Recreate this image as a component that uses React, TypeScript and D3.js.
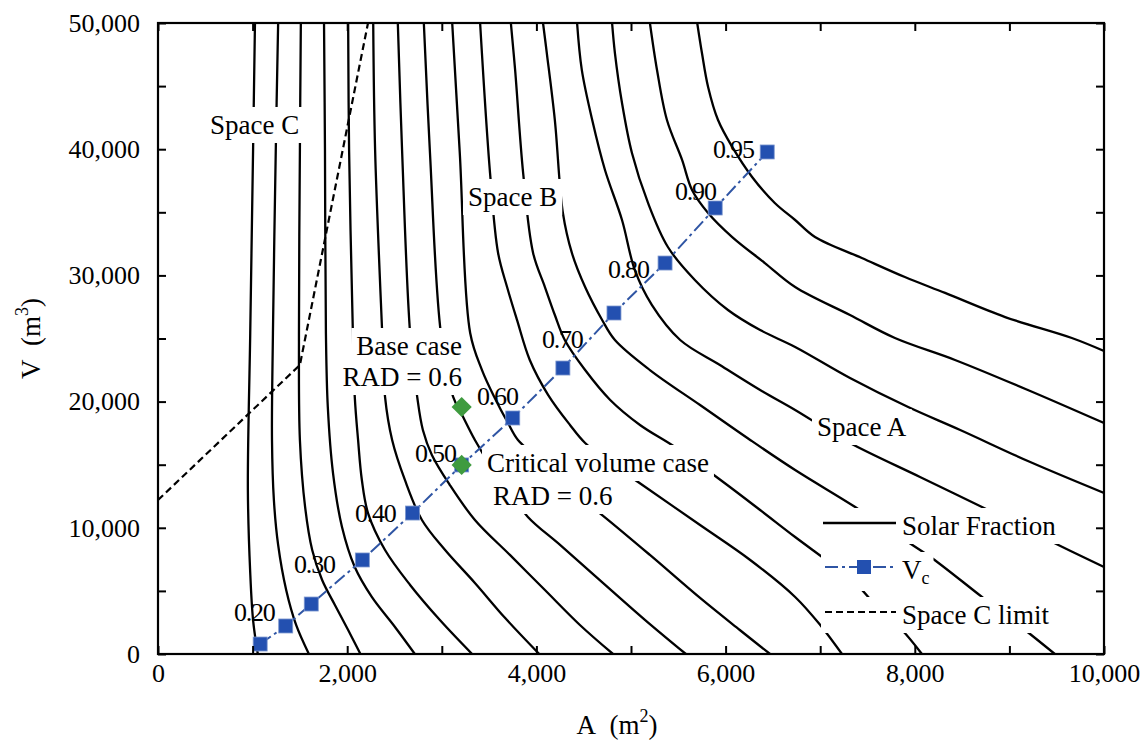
import React, { useEffect, useRef } from "react";
import * as d3 from "d3";

// ---------- data ----------
const xMajorTicks = [0, 2000, 4000, 6000, 8000, 10000];
const xAllTicks = [0, 1000, 2000, 3000, 4000, 5000, 6000, 7000, 8000, 9000, 10000];
const yMajorTicks = [0, 10000, 20000, 30000, 40000, 50000];
const yAllTicks = [0, 5000, 10000, 15000, 20000, 25000, 30000, 35000, 40000, 45000, 50000];

// Solar fraction contours, [A (m2), V (m3)]
const sf020 = [[1025, 50000], [1005, 39940], [975, 25440], [950, 13000], [975, 6420], [1005, 2690], [1055, 0]];
const sf025 = [[1270, 50000], [1245, 39940], [1215, 25440], [1205, 16960], [1225, 12200], [1270, 8640], [1355, 5070], [1460, 2300], [1595, 0]];
const sf030 = [[1510, 50000], [1500, 39940], [1490, 25440], [1500, 16960], [1555, 11650], [1630, 8240], [1735, 5860], [1870, 3880], [2010, 1900], [2140, 0]];
const sf035 = [[1755, 50000], [1765, 39940], [1775, 25440], [1795, 19570], [1850, 14340], [1945, 10060], [2080, 6890], [2260, 4520], [2505, 2140], [2715, 0]];
const sf040 = [[2010, 50000], [2020, 39940], [2060, 25440], [2080, 20370], [2115, 16960], [2155, 13790], [2220, 11170], [2400, 8240], [2665, 5470], [2980, 2690], [3320, 0]];
const sf045 = [[2275, 50000], [2295, 39940], [2370, 25440], [2400, 20370], [2475, 16960], [2610, 13790], [2790, 10620], [3035, 8240], [3350, 5630], [3670, 2850], [4030, 0]];
const sf050 = [[2535, 50000], [2580, 39940], [2665, 25440], [2740, 20370], [2800, 17750], [2895, 15770], [3085, 13390], [3350, 10620], [3720, 7850], [4090, 5070], [4460, 2300], [4810, 0]];
const sf055 = [[2810, 50000], [2875, 39700], [2990, 25440], [3120, 20370], [3215, 18940], [3350, 16960], [3510, 14980], [3720, 12840], [3910, 10860], [4250, 8640], [4670, 5860], [5150, 2690], [5580, 0]];
const sf060 = [[3110, 50000], [3190, 39700], [3300, 25440], [3425, 22500], [3560, 20290], [3700, 18300], [3805, 16960], [4040, 15370], [4355, 13000], [4695, 11010], [5200, 7850], [5730, 4440], [6150, 1900], [6470, 0]];
const sf065 = [[3405, 50000], [3510, 38110], [3595, 31780], [3690, 29080], [3795, 26470], [3930, 23300], [4125, 20520], [4355, 18150], [4515, 16720], [4780, 15210], [5075, 13630], [5730, 10220], [6260, 7450], [6735, 4520], [7000, 2300], [7230, 0]];
const sf070 = [[3730, 50000], [3775, 46280], [3860, 38110], [3965, 31780], [4090, 29080], [4195, 26860], [4300, 24880], [4515, 22500], [4780, 20130], [5095, 18150], [5465, 16400], [5975, 13630], [6365, 11410], [6735, 9270], [7105, 7210], [7370, 5630], [7630, 3490], [7865, 1900], [8075, 0]];
const sf075 = [[4070, 50000], [4110, 47620], [4195, 42310], [4280, 34950], [4375, 31780], [4515, 29080], [4695, 26470], [4830, 24880], [5200, 22500], [5730, 19730], [6260, 16960], [6735, 14580], [7370, 11650], [7895, 9030], [8180, 7610], [8710, 4520], [9165, 1900], [9480, 0]];
const sf080 = [[4430, 50000], [4480, 46280], [4590, 42310], [4725, 38350], [4905, 34390], [5040, 30430], [5220, 27660], [5520, 24880], [5940, 22900], [6365, 20920], [6735, 19340], [7295, 16800], [8055, 14030], [8710, 11650], [9410, 9030], [10000, 6890]];
const sf085 = [[4800, 50000], [4830, 47620], [4905, 43660], [5010, 39700], [5180, 35740], [5390, 32250], [5675, 29640], [6025, 27260], [6365, 25670], [6735, 24330], [7315, 21870], [7930, 19570], [8480, 17750], [9220, 15210], [10000, 12760]];
const sf090 = [[5200, 50000], [5275, 46280], [5380, 42310], [5540, 39150], [5645, 36770], [5815, 34950], [6070, 33040], [6415, 30980], [6735, 29080], [7315, 26860], [7790, 25040], [8425, 23300], [9195, 20920], [10000, 18300]];
const sf095 = [[5700, 50000], [5750, 47620], [5815, 44930], [5920, 42310], [6070, 40180], [6280, 37800], [6520, 35740], [6735, 34390], [6945, 33040], [7440, 31380], [7895, 29870], [8320, 28610], [8955, 26700], [9660, 25040], [10000, 24010]];

const contours = [sf020, sf025, sf030, sf035, sf040, sf045, sf050, sf055, sf060, sf065, sf070, sf075, sf080, sf085, sf090, sf095];

// Critical volume Vc series
const vcA = [1080, 1350, 1620, 2160, 2690, 3210, 3750, 4280, 4820, 5360, 5890, 6440];
const vcV = [790, 2220, 3960, 7450, 11170, 14980, 18700, 22660, 27020, 30980, 35340, 39780];

// Contour level labels: text, A, V (left / baseline anchor)
const sfLabelText = ["0.20", "0.30", "0.40", "0.50", "0.60", "0.70", "0.80", "0.90", "0.95"];
const sfLabelA = [803, 1438, 2082, 2717, 3372, 4059, 4757, 5465, 5867];
const sfLabelV = [2615, 6418, 10460, 15214, 19731, 24247, 29794, 35975, 39303];

// Space C limit
const spaceCLimit = [[0, 12200], [1500, 22900], [2220, 50000]];

// Green cases
const baseCase = [3210, 19570];
const criticalCase = [3210, 14980];

export default function App() {
  const ref = useRef<SVGSVGElement>(null);

  useEffect(() => {
    const W = 1142, H = 742;
    const L = 158, R = 1104, T = 23, B = 654;
    const font = "'Liberation Serif', 'Times New Roman', serif";
    const svg = d3.select(ref.current);
    svg.selectAll("*").remove();
    svg.attr("width", W).attr("height", H);

    const x = d3.scaleLinear().domain([0, 10000]).range([L, R]);
    const y = d3.scaleLinear().domain([0, 50000]).range([B, T]);

    svg.append("rect").attr("width", W).attr("height", H).attr("fill", "#fff");

    const defs = svg.append("defs");
    defs.append("clipPath").attr("id", "plotclip")
      .append("rect").attr("x", L).attr("y", T).attr("width", R - L).attr("height", B - T);

    const plot = svg.append("g").attr("clip-path", "url(#plotclip)");

    const line = d3.line<number[]>()
      .x((d) => x(d[0]))
      .y((d) => y(d[1]))
      .curve(d3.curveCatmullRom.alpha(0.5));

    // contours
    plot.append("g").selectAll("path").data(contours).join("path")
      .attr("d", (d) => line(d))
      .attr("fill", "none")
      .attr("stroke", "#000")
      .attr("stroke-width", 2.3);

    // space C limit
    plot.append("path")
      .attr("d", d3.line<number[]>().x((d) => x(d[0])).y((d) => y(d[1]))(spaceCLimit))
      .attr("fill", "none").attr("stroke", "#000").attr("stroke-width", 2.2)
      .attr("stroke-dasharray", "7,4");

    // annotations with white backgrounds
    const annot = svg.append("g");
    const addBoxedText = (txt: string, ax: number, vy: number, anchor: string, padX = 5, padY = 3) => {
      const g = annot.append("g");
      const t = g.append("text")
        .attr("x", x(ax)).attr("y", y(vy))
        .attr("text-anchor", anchor)
        .attr("font-family", font).attr("font-size", 27).attr("fill", "#000")
        .text(txt);
      const bb = (t.node() as SVGTextElement).getBBox();
      g.insert("rect", "text")
        .attr("x", bb.x - padX).attr("y", bb.y - padY)
        .attr("width", bb.width + 2 * padX).attr("height", bb.height + 2 * padY)
        .attr("fill", "#fff");
    };
    addBoxedText("Space C", 550, 41205, "start");
    addBoxedText("Space B", 3277, 35500, "start");
    addBoxedText("Space A", 6966, 17274, "start");
    addBoxedText("Base case", 3214, 23693, "end");
    addBoxedText("RAD = 0.6", 3214, 21236, "end");
    addBoxedText("Critical volume case", 3478, 14422, "start");
    addBoxedText("RAD = 0.6", 3541, 11807, "start");

    // Vc series
    const vcPts = vcA.map((a, i) => [a, vcV[i]]);
    const vcColor = "#2f55a4";
    svg.append("path")
      .attr("d", d3.line<number[]>().x((d) => x(d[0])).y((d) => y(d[1]))(vcPts))
      .attr("fill", "none").attr("stroke", vcColor).attr("stroke-width", 2)
      .attr("stroke-dasharray", "13,4,3,4");
    svg.append("g").selectAll("rect").data(vcPts).join("rect")
      .attr("x", (d) => x(d[0]) - 7).attr("y", (d) => y(d[1]) - 7)
      .attr("width", 14).attr("height", 14)
      .attr("fill", "#2350b0").attr("stroke", "#7d97cf").attr("stroke-width", 0.8);

    // green case markers
    const diamond = d3.symbol().type(d3.symbolDiamond2).size(260);
    svg.append("g").selectAll("path").data([baseCase, criticalCase]).join("path")
      .attr("d", diamond)
      .attr("transform", (d) => `translate(${x(d[0])},${y(d[1])})`)
      .attr("fill", "#3f9b3f");

    // contour labels
    svg.append("g").selectAll("text").data(sfLabelText).join("text")
      .attr("x", (_d, i) => x(sfLabelA[i])).attr("y", (_d, i) => y(sfLabelV[i]))
      .attr("font-family", font).attr("font-size", 26).attr("letter-spacing", -1.2)
      .attr("fill", "#000")
      .text((d) => d);

    // legend
    const lg = svg.append("g");
    const rows = [
      { y: 523, kind: "solid", label: "Solar Fraction" },
      { y: 567, kind: "vc", label: "V" },
      { y: 612, kind: "dash", label: "Space C limit" },
    ];
    rows.forEach((r) => {
      const g = lg.append("g");
      const bg = g.append("rect").attr("fill", "#fff");
      if (r.kind === "solid") {
        g.append("line").attr("x1", 823).attr("x2", 896).attr("y1", r.y).attr("y2", r.y)
          .attr("stroke", "#000").attr("stroke-width", 2.3);
      } else if (r.kind === "vc") {
        g.append("line").attr("x1", 825).attr("x2", 896).attr("y1", r.y).attr("y2", r.y)
          .attr("stroke", vcColor).attr("stroke-width", 2).attr("stroke-dasharray", "13,4,3,4");
        g.append("rect").attr("x", 857).attr("y", r.y - 7).attr("width", 14).attr("height", 14)
          .attr("fill", "#2350b0");
      } else {
        g.append("line").attr("x1", 825).attr("x2", 896).attr("y1", r.y).attr("y2", r.y)
          .attr("stroke", "#000").attr("stroke-width", 2.2).attr("stroke-dasharray", "7,4");
      }
      const t = g.append("text").attr("x", 902).attr("y", r.y + 12)
        .attr("font-family", font).attr("font-size", 27).attr("fill", "#000");
      t.append("tspan").text(r.label);
      if (r.kind === "vc") {
        t.append("tspan").attr("font-size", 18).attr("dy", 5).text("c");
      }
      const bb = (g.node() as SVGGElement).getBBox();
      bg.attr("x", bb.x - 4).attr("y", bb.y - 3).attr("width", bb.width + 8).attr("height", bb.height + 6);
    });

    // axes
    const fmt = d3.format(",");
    const axB = svg.append("g").attr("transform", `translate(0,${B})`)
      .call(d3.axisBottom(x).tickValues(xAllTicks).tickSize(-8).tickPadding(10)
        .tickFormat((d) => (xMajorTicks.includes(+d) ? fmt(+d) : "")));
    const axT = svg.append("g").attr("transform", `translate(0,${T})`)
      .call(d3.axisTop(x).tickValues(xAllTicks).tickSize(-8).tickFormat(() => ""));
    const axL = svg.append("g").attr("transform", `translate(${L},0)`)
      .call(d3.axisLeft(y).tickValues(yAllTicks).tickSize(-8).tickPadding(18)
        .tickFormat((d) => (yMajorTicks.includes(+d) ? fmt(+d) : "")));
    const axR = svg.append("g").attr("transform", `translate(${R},0)`)
      .call(d3.axisRight(y).tickValues(yAllTicks).tickSize(-8).tickFormat(() => ""));
    [axB, axT, axL, axR].forEach((a) => {
      a.select(".domain").remove();
      a.selectAll("line").attr("stroke", "#000").attr("stroke-width", 2);
      a.selectAll("text").attr("font-family", font).attr("font-size", 26).attr("fill", "#000");
    });

    // frame
    svg.append("rect").attr("x", L).attr("y", T).attr("width", R - L).attr("height", B - T)
      .attr("fill", "none").attr("stroke", "#000").attr("stroke-width", 2.2);

    // axis titles
    const xt = svg.append("text").attr("x", 617).attr("y", 734)
      .attr("text-anchor", "middle").attr("font-family", font).attr("font-size", 27);
    xt.append("tspan").text("A\u00a0\u00a0(m");
    xt.append("tspan").attr("font-size", 18).attr("dy", -12).text("2");
    xt.append("tspan").attr("dy", 12).text(")");

    const yt = svg.append("text").attr("transform", `translate(40,${(T + B) / 2}) rotate(-90)`)
      .attr("text-anchor", "middle").attr("font-family", font).attr("font-size", 27);
    yt.append("tspan").text("V\u00a0\u00a0(m");
    yt.append("tspan").attr("font-size", 18).attr("dy", -12).text("3");
    yt.append("tspan").attr("dy", 12).text(")");
  }, []);

  return (
    <svg
      ref={ref}
      width={1142}
      height={742}
      style={{ position: "absolute", left: 0, top: 0, display: "block" }}
    />
  );
}
